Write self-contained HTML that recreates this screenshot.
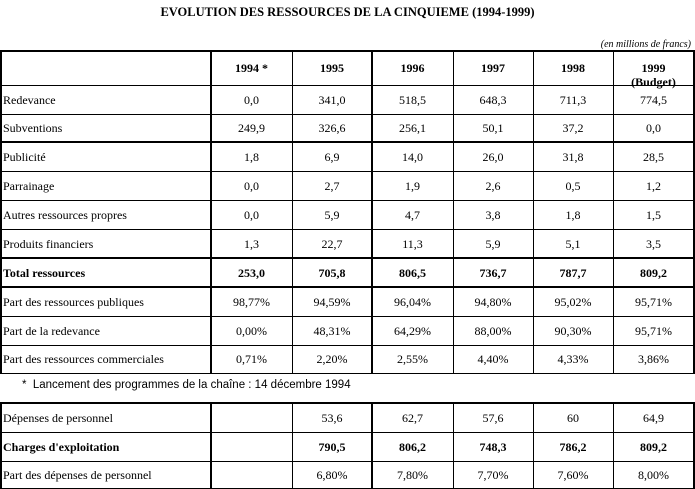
<!DOCTYPE html>
<html><head><meta charset="utf-8">
<style>
body{margin:0;background:#fff;width:695px;height:489px;overflow:hidden;position:relative;font-family:"Liberation Serif",serif;color:#000}
.l{position:absolute;background:#000}
.t{position:absolute;font-size:12px;line-height:14px;white-space:nowrap}
.c{text-align:center}
.b{font-weight:bold}
</style></head>
<body>
<div class="t b" style="left:0;width:695px;top:5px;text-align:center;font-size:12.5px">EVOLUTION DES RESSOURCES DE LA CINQUIEME (1994-1999)</div>
<div class="t" style="right:4px;top:38px;font-style:italic;font-size:10px">(en millions de francs)</div>
<div class="t" style="left:22px;top:378px;font-family:'Liberation Sans',sans-serif;font-size:11.5px">*&nbsp; Lancement des programmes de la chaîne : 14 décembre 1994</div>
<div id="root"></div>
<script>
const cols=[0,211,292,372,453,533,613,694];
const years=["1994 *","1995","1996","1997","1998","1999"];
const rows1=[
["Redevance",["0,0","341,0","518,5","648,3","711,3","774,5"],0],
["Subventions",["249,9","326,6","256,1","50,1","37,2","0,0"],0],
["Publicité",["1,8","6,9","14,0","26,0","31,8","28,5"],0],
["Parrainage",["0,0","2,7","1,9","2,6","0,5","1,2"],0],
["Autres ressources propres",["0,0","5,9","4,7","3,8","1,8","1,5"],0],
["Produits financiers",["1,3","22,7","11,3","5,9","5,1","3,5"],0],
["Total ressources",["253,0","705,8","806,5","736,7","787,7","809,2"],1],
["Part des ressources publiques",["98,77%","94,59%","96,04%","94,80%","95,02%","95,71%"],0],
["Part de la redevance",["0,00%","48,31%","64,29%","88,00%","90,30%","95,71%"],0],
["Part des ressources commerciales",["0,71%","2,20%","2,55%","4,40%","4,33%","3,86%"],0]];
const rows2=[
["Dépenses de personnel",["","53,6","62,7","57,6","60","64,9"],0],
["Charges d'exploitation",["","790,5","806,2","748,3","786,2","809,2"],1],
["Part des dépenses de personnel",["","6,80%","7,80%","7,70%","7,60%","8,00%"],0]];
const y1=[51,85,114,142,171,200,229,258,287,316,345,373];
const thick1=[51,142,258,287];
const y2=[403,432,461,488];
const root=document.getElementById('root');
function line(x,y,w,h,nm){const d=document.createElement('div');d.className='l';d.style.cssText=`left:${x}px;top:${y}px;width:${w}px;height:${h}px`;


root.appendChild(d);}
function txt(x,y,w,h,s,center,bold,nm){const d=document.createElement('div');d.className='t'+(center?' c':'')+(bold?' b':'');d.innerHTML=s;
d.style.cssText=`left:${x}px;top:${y+(h-14)/2}px;width:${w}px`;


root.appendChild(d);}
function table(ys,thick,top,bot){
 ys.forEach((y,i)=>{const t=thick.includes(y);line(0,y-(t?1:0),695,t?2:1,'row-border');});
 cols.forEach((x,i)=>{const t=(i==1||i==3||i==0||i==7);line(x-(t&&i>0?1:0),top-1,t?2:1,bot-top+2,'col-border');});
}
table(y1,thick1,51,373);
table(y2,[403],403,488);
// header
years.forEach((yr,i)=>{const x=cols[i+1],w=cols[i+2]-x;
 if(i==5) txt(x,51,w,34,"1999<br>(Budget)",true,true,'header-1999');
 else txt(x,51,w,34,yr,true,true,'header-'+yr.slice(0,4));});
function fill(rows,ys,pref){rows.forEach((r,ri)=>{const y=ys[ri],h=ys[ri+1]-y;
 txt(3,y,205,h,r[0],false,r[2],pref+'-label');
 r[1].forEach((v,ci)=>{const x=cols[ci+1];txt(x,y,cols[ci+2]-x,h,v,true,r[2],pref+'-value');});});}
fill(rows1,y1.slice(1),'resource-row');
fill(rows2,y2,'expense-row');
</script>
</body></html>
